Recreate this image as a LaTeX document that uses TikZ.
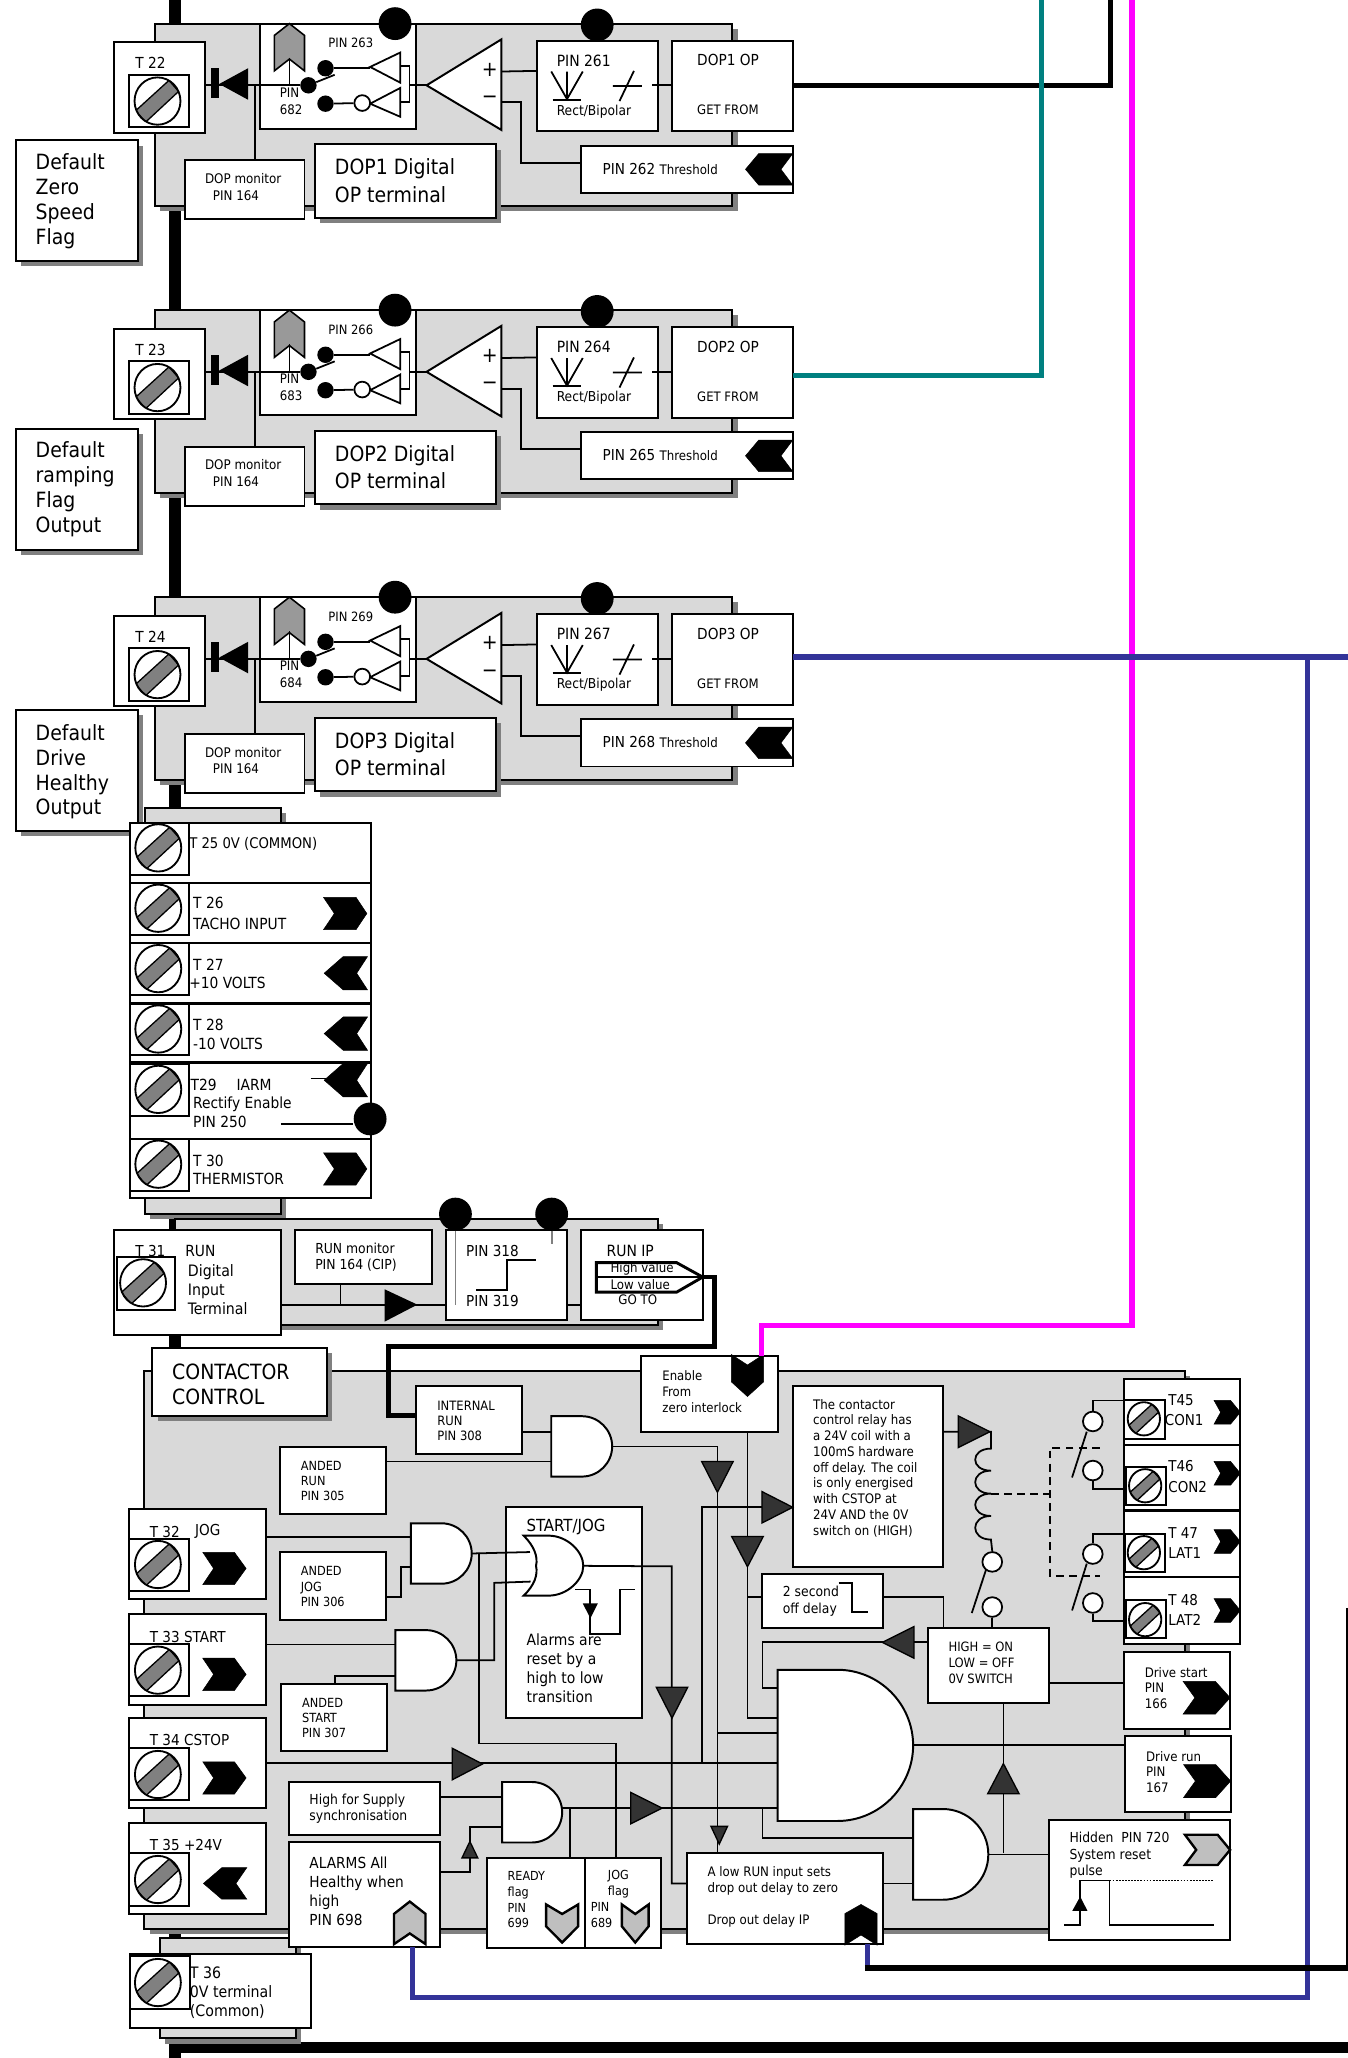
\documentclass[tikz,border=0pt]{standalone}
\usepackage{fontspec}
\setmainfont{DejaVu Sans Condensed}
\usepackage{tikz}

\definecolor{pnlgrey}{HTML}{D9D9D9}
\definecolor{shgrey}{HTML}{808080}
\definecolor{chevgrey}{HTML}{999999}
\definecolor{softgrey}{HTML}{BFBFBF}
\definecolor{darktri}{HTML}{333333}
\definecolor{tealwire}{HTML}{008080}
\definecolor{bluewire}{HTML}{333399}
\definecolor{magwire}{HTML}{FF00FF}

\tikzset{
  box/.style={draw,fill=white,line width=1.5pt,rectangle,inner sep=0pt,outer sep=0pt,anchor=north west},
  pnl/.style={box,fill=pnlgrey},
  lbl/.style 2 args={font=\fontsize{#1}{#2}\selectfont,anchor=west,align=left,inner sep=0pt,yshift=-1pt},
  wire/.style={line width=1.35pt},
  fatwire/.style={line width=4pt},
  blob/.style={circle,fill=black,inner sep=0pt,minimum size=25pt},
  ball/.style={circle,fill=black,inner sep=0pt,minimum size=12.5pt},
  contact/.style={circle,draw,fill=white,line width=1.35pt,inner sep=0pt,minimum size=15pt},
  blackchev/.style={fill=black,draw=black,line width=.4pt},
  greychev/.style={fill=softgrey,draw=black,line width=1.8pt},
  midgrey/.style={fill=chevgrey,draw=black,line width=1.2pt},
}

% box from corner to corner
\newcommand{\nbox}[6][box]{\node[#1,minimum width={(#5-#3)*1pt},minimum height={(#6-#4)*1pt}] (#2) at (#3,#4) {};}
\newcommand{\shbox}[5]{\fill[shgrey] (#2+4,#3+4) rectangle (#4+4,#5+4);
  \nbox{#1}{#2}{#3}{#4}{#5}}
\newcommand{\pnlbox}[5]{\fill[shgrey] (#2+4,#3+4) rectangle (#4+4,#5+4);
  \nbox[pnl]{#1}{#2}{#3}{#4}{#5}}
% screw head: x, y, radius
\newcommand{\screw}[3]{\begin{scope}[shift={(#1,#2)},scale=#3]
  \fill[white] (0,0) ellipse [x radius=1,y radius=1.03];
  \begin{scope}
    \clip (0,0) ellipse [x radius=1,y radius=1.03];
    \filldraw[fill=shgrey,line width=1pt] (-.95,.42) -- (-.52,.92) -- (.92,-.42) -- (.5,-.9) -- cycle;
  \end{scope}
  \draw[line width=1.4pt] (0,0) ellipse [x radius=1,y radius=1.03];
\end{scope}}
% chevron: x, y, direction, half length, half width, shoulder
\newcommand{\chev}[7][blackchev]{\begin{scope}[shift={(#2,#3)},rotate=#4,xscale=#5,yscale=#6]
  \path[#1] (-1,-1) -- (#7,-1) -- (1,0) -- (#7,1) -- (-1,1) -- (-.5,0) -- cycle;
\end{scope}}
% triangle: tip x, tip y, direction, length, half width
\newcommand{\tri}[6][darktri]{\begin{scope}[shift={(#2,#3)},rotate=#4]
  \filldraw[fill=#1,line width=1pt] (0,0) -- (-#5,-#6) -- (-#5,#6) -- cycle;
\end{scope}}
% and gate: name, corners
\newcommand{\andg}[5]{\node[inner sep=0pt,outer sep=0pt,anchor=north west,minimum width={(#4-#2)*1pt},minimum height={(#5-#3)*1pt}] (#1) at (#2,#3) {};
  \pgfmathsetmacro{\gr}{(#5-#3)/2}
  \filldraw[fill=white,line width=1.5pt] (#2,#3) -- (#4-\gr,#3) .. controls (#4-.45*\gr,#3) and (#4,#3+.45*\gr) .. (#4,#3+\gr)
    .. controls (#4,#5-.45*\gr) and (#4-.45*\gr,#5) .. (#4-\gr,#5) -- (#2,#5) -- cycle;}

\newcommand{\dopblock}[8]{\begin{scope}[yshift=-#2]
\pnlbox{#1Panel}{118}{18}{558}{157}
\nbox{#1Mon}{141}{122}{232}{167}
\shbox{#1Dig}{240}{110}{378}{166}
\nbox{#1Term}{87}{32}{156}{101}
\nbox{#1Sq}{98}{57}{144}{97}
\screw{120}{77}{17.5}
\nbox{#1Sw}{198}{18}{317}{98}
\nbox{#1Pin}{409}{31}{501}{100}
\nbox{#1Op}{512}{31}{604}{100}
\nbox{#1Thr}{443}{111}{604}{147}
\node[blob] (#1DotA) at (301,18) {};
\node[blob] (#1DotB) at (455,19) {};
\node[ball] (#1BallT) at (248,52) {};
\node[ball] (#1BallC) at (235,65) {};
\node[ball] (#1BallB) at (248,79) {};
\coordinate (#1Jn) at (194,65);
\coordinate (#1Tap) at (220.5,65);
\coordinate (#1Amp) at (325,65);
\draw[wire] (#1Term.east |- 0,65) -- (#1BallC);
\draw[wire] (#1Jn) -- (#1Mon.north -| #1Jn);
\fill (161,52) rectangle (167,75);
\fill (167,64) -- (189,52) -- (189,76) -- cycle;
\chev[midgrey]{220.5}{36}{90}{18}{11.5}{.5}
\draw[wire] (220.5,44) -- (#1Tap);
\draw[wire] (#1BallC) -- (255,57);
\draw[wire] (#1BallT) -- (282,52);
\filldraw[fill=white,wire] (282,51) -- (305,40) -- (305,63) -- cycle;
\filldraw[fill=white,wire] (282,79) -- (305,67) -- (305,89) -- cycle;
\node[contact,minimum size=12pt] (#1Bub) at (276,78.5) {};
\draw[wire] (#1BallB) -- (#1Bub);
\draw[wire] (305,50) -- (312,50) -- (312,78) -- (305,78);
\draw[wire] (312,65) -- (#1Amp);
\filldraw[fill=white,line width=1.5pt] (#1Amp) -- (382,30) -- (382,99) -- cycle;
\draw[wire] (382,54.5) -- (#1Pin.west |- 0,54);
\draw[wire] (382,78) -- (397,78) -- (397,124) -- (#1Thr.west |- 0,124);
\draw[wire] (497,65) -- (#1Op.west |- 0,65);
\draw[wire] (420,54.5) -- (432,75.5) -- (444,54.5) (432,54.5) -- (432,75.5);
\draw[line width=1.5pt] (421,76) -- (443,76);
\draw[wire] (467,65.5) -- (489,65.5) (483,54) -- (472,77);
\chev{586}{129}{180}{18}{12}{.44}
\node[lbl={16}{16}] (#1Plus) at (367,52) {+};
\node[lbl={16}{16}] (#1Minus) at (367,75) {−};
\node[lbl={11.6}{13}] (#1Tname) at (103,47) {#3};
\node[lbl={9.8}{12}] (#1PinA) at (250,32) {PIN #4};
\node[lbl={10}{13}] (#1PinB) at (213,76) {PIN\\#5};
\node[lbl={11.8}{13}] (#1PinC) at (424,45) {PIN #6};
\node[lbl={10.4}{12}] (#1Rect) at (424,84) {Rect/Bipolar};
\node[lbl={11.6}{13}] (#1OpA) at (531,45) {DOP#7 OP};
\node[lbl={9.9}{12}] (#1OpB) at (531,83) {GET FROM};
\node[lbl={11.5}{13}] (#1ThrT) at (459,127.5) {PIN #8 {\fontsize{10}{12}\selectfont Threshold}};
\node[lbl={10.1}{13}] (#1MonA) at (156,135) {DOP monitor};
\node[lbl={10.1}{13}] (#1MonB) at (162,148) {PIN 164};
\node[lbl={16}{21}] (#1DigT) at (255,136.5) {DOP#7 Digital\\OP terminal};
\end{scope}}

\begin{document}
\begin{tikzpicture}[x=1pt,y=-1pt]
\useasboundingbox (0,0) rectangle (1027,1568);

% supply bars
\coordinate (busTop) at (133.5,0);
\coordinate (busBot) at (133.5,1568);
\coordinate (barL) at (129,1560);
\coordinate (barR) at (1027,1560);
\draw[line width=9pt] (busTop) -- (busBot);
\draw[line width=8.5pt] (barL) -- (barR);

\dopblock{a}{0}{T 22}{263}{682}{261}{1}{262}
\dopblock{b}{218.3}{T 23}{266}{683}{264}{2}{265}
\dopblock{c}{437}{T 24}{269}{684}{267}{3}{268}

\shbox{defA}{12}{107}{105}{199}
\node[lbl={16}{19}] (defAt) at (27,152) {Default\\Zero\\Speed\\Flag};
\shbox{defB}{12}{327}{105}{419}
\node[lbl={16}{19}] (defBt) at (27,372) {Default\\ramping\\Flag\\Output};
\shbox{defC}{12}{541}{105}{633}
\node[lbl={16}{19}] (defCt) at (27,587) {Default\\Drive\\Healthy\\Output};

% terminals 25 to 30
\pnlbox{tPanel}{110.5}{615.5}{214}{925}
\nbox{rowA}{99}{627}{283}{672.6}
\nbox{rowB}{99}{672.6}{283}{718.3}
\nbox{rowC}{99}{718.3}{283}{764}
\nbox{rowD}{99}{764.6}{283}{809.2}
\nbox{rowE}{99}{809.8}{283}{867.6}
\nbox{rowF}{99}{867.6}{283}{912.4}
\nbox{sqA}{99}{627}{144}{666.6}
\nbox{sqB}{99}{673}{144}{712.4}
\nbox{sqC}{99}{718.3}{144}{758}
\nbox{sqD}{99}{765}{144}{804}
\nbox{sqE}{99}{811}{144}{850}
\nbox{sqF}{99}{868}{144}{907.5}
\screw{120.6}{646}{17.5}
\screw{120.6}{692}{17.5}
\screw{120.6}{738}{17.5}
\screw{120.6}{784}{17.5}
\screw{120.6}{830}{17.5}
\screw{120.6}{887}{17.5}
\chev{263}{696}{0}{16.5}{12.3}{.5}
\chev{263.5}{741.5}{180}{16.5}{12.7}{.12}
\chev{263.5}{787.5}{180}{16.5}{12.7}{.12}
\begin{scope}
  \clip (200,811) rectangle (283,840);
  \chev{263.5}{823}{180}{16.5}{12.7}{.12}
\end{scope}
\chev{263}{890.6}{0}{16.5}{12.3}{.5}
\node[lbl={11.2}{13}] (tA) at (144,642) {T 25 0V (COMMON)};
\node[lbl={11.7}{16}] (tB) at (147,695) {T 26\\TACHO INPUT};
\node[lbl={11.7}{14}] (tC) at (147,734) {T 27};
\node[lbl={11.7}{14}] (tCb) at (144,748) {+10 VOLTS};
\node[lbl={11.7}{14}] (tD) at (147,787) {T 28\\-10 VOLTS};
\node[lbl={11.7}{14}] (tE) at (145,825.5) {T29};
\node[lbl={11.7}{14}] (tEb) at (180,825.5) {IARM};
\node[lbl={11.7}{14}] (tEc) at (147,846.5) {Rectify Enable\\PIN 250};
\node[lbl={11.7}{14}] (tF) at (147,890.5) {T 30\\THERMISTOR};
\node[blob] (dotIarm) at (282,852.5) {};
\coordinate (iarmEnd) at (236.6,821.7);
\coordinate (rectEnd) at (214,856.6);
\draw[wire] (iarmEnd) -- (248,821.7);
\draw[wire] (rectEnd) -- (dotIarm.west |- rectEnd);

% run input
\pnlbox{runPanel}{133.6}{928.4}{501}{1009.5}
\nbox{runTerm}{87}{937}{214}{1017}
\nbox{runSq}{89}{958}{133}{998}
\screw{109}{977.4}{17.5}
\nbox{runMon}{225}{937}{329}{978}
\nbox{runPin}{340}{937}{432}{1006}
\nbox{runIp}{443}{937}{535.4}{1006}
\node[blob] (dotRunA) at (347,925) {};
\node[blob] (dotRunB) at (420.3,925) {};
\draw[wire] (runTerm.east |- 0,994) -- (runPin.west |- 0,994);
\draw[wire] (runPin.east |- 0,994) -- (runIp.west |- 0,994);
\draw[wire] (runMon.south -| 259.5,0) -- (259.5,994);
\fill (318,994) -- (293,982.3) -- (293,1007) -- cycle;
\draw[wire,shgrey] (dotRunA.south) -- (347,994);
\draw[wire,shgrey] (dotRunB.south) -- (420.3,948);
\draw[wire] (363,983) -- (386,983) -- (386,960) -- (408.6,960);
\coordinate (ipTip) at (535.4,973);
\draw[line width=2.2pt] (454.4,962) -- (515.5,962) -- (ipTip) -- (515.5,984.5) -- (454.4,984.5) -- cycle;
\draw[wire] (454.4,973) -- (ipTip);
\node[lbl={11.5}{13}] (tRunA) at (103,952) {T 31};
\node[lbl={11.7}{13}] (tRunB) at (141,952) {RUN};
\node[lbl={12}{14.5}] (tRunC) at (143,981.5) {Digital\\Input\\Terminal};
\node[lbl={10.5}{12.5}] (tRunD) at (240,957) {RUN monitor\\PIN 164 (CIP)};
\node[lbl={11.5}{13}] (tRunE) at (355,952) {PIN 318};
\node[lbl={11.5}{13}] (tRunF) at (355,990) {PIN 319};
\node[lbl={11.8}{13}] (tRunG) at (462,952) {RUN IP};
\node[lbl={10}{11}] (tRunH) at (465,966) {High value};
\node[lbl={10}{11}] (tRunI) at (465,977.5) {Low value};
\node[lbl={10}{11}] (tRunJ) at (471,989.5) {GO TO};

% contactor control
\pnlbox{ctlPanel}{110}{1044.7}{903}{1469.4}
\shbox{ctlName}{116}{1027}{249}{1079}
\node[lbl={16}{19}] (ctlNameT) at (131,1053.5) {CONTACTOR\\CONTROL};
\nbox{inRun}{316.7}{1056}{397.5}{1107.5}
\nbox{andRun}{213.3}{1102.3}{294.4}{1153.6}
\nbox{andJog}{213.3}{1182.5}{294.4}{1234}
\nbox{andStart}{214.4}{1282.7}{295}{1334}
\nbox{termJog}{98.5}{1149.4}{202.4}{1218.5}
\nbox{termStart}{98.5}{1229.7}{202.4}{1298.7}
\nbox{termStop}{98.5}{1309}{202.4}{1377.6}
\nbox{termVolt}{98.5}{1389}{202.4}{1458}
\nbox{sqJog}{98.5}{1172.4}{144}{1212}
\nbox{sqStart}{98.5}{1252.7}{144}{1292.5}
\nbox{sqStop}{98.5}{1332}{144}{1371.7}
\nbox{sqVolt}{98.5}{1412}{144}{1452}
\screw{120.3}{1192}{17.5}
\screw{120.3}{1272.5}{17.5}
\screw{120.3}{1352}{17.5}
\screw{120.3}{1432}{17.5}
\chev{171}{1195}{0}{16.5}{12.3}{.46}
\chev{171}{1275.7}{0}{16.5}{12.3}{.46}
\chev{171}{1354.6}{0}{16.5}{12.3}{.46}
\chev{171.5}{1435}{180}{16.5}{12}{.15}
\pnlbox{zeroPanel}{122}{1476.3}{225.5}{1553}
\nbox{termZero}{99}{1488.6}{237.3}{1545.4}
\nbox{sqZero}{99}{1490}{145}{1530.4}
\screw{120.3}{1510.5}{17.5}
\nbox{startBox}{385.8}{1148.4}{489.2}{1309}
\nbox{supBox}{220}{1357.7}{335.2}{1397.8}
\nbox{almBox}{220}{1403.4}{335.2}{1483.7}
\nbox{readyBox}{371}{1415.3}{446}{1484}
\nbox{jogBox}{446}{1415.3}{503.6}{1484}
\nbox{enBox}{488.6}{1033}{592.5}{1090.8}
\nbox{noteBox}{604}{1056}{718.8}{1193.7}
\nbox{offBox}{580.8}{1199}{672.7}{1240}
\nbox{swBox}{707.4}{1240}{799}{1297.7}
\nbox{dropBox}{523.4}{1412}{672.7}{1481.2}
\nbox{runOut}{857.4}{1322.8}{938}{1380.4}
\nbox{startOut}{856.7}{1259}{937.2}{1317}
\nbox{hidBox}{799.3}{1386.7}{937.2}{1478.4}
\nbox{rlyA}{856.4}{1050.7}{944.4}{1100.6}
\nbox{rlyB}{856.4}{1100.6}{944.4}{1150.8}
\nbox{rlyC}{856.4}{1151.5}{944.4}{1201.7}
\nbox{rlyD}{856.4}{1201.7}{944.4}{1252.7}
\nbox{sqRlyA}{856.4}{1067}{887.7}{1096.4}
\nbox{sqRlyB}{858}{1117.7}{888.7}{1147}
\nbox{sqRlyC}{857}{1168.6}{887.7}{1198}
\nbox{sqRlyD}{858}{1219}{888.7}{1248}
\screw{871.5}{1081}{12.3}
\screw{872.5}{1132}{12.3}
\screw{871.5}{1183}{12.3}
\screw{872.5}{1234}{12.3}
\chev{935}{1076}{0}{10}{9}{.26}
\chev{935}{1122.5}{0}{10}{9}{.26}
\chev{935}{1174.5}{0}{10}{9}{.26}
\chev{935}{1227}{0}{10}{9}{.26}

\andg{gateRun}{420}{1079}{466.4}{1125}
\andg{gateJog}{313}{1160.6}{359.4}{1206.6}
\andg{gateStart}{301.2}{1242}{347.7}{1288}
\andg{gateSup}{382.6}{1357.7}{428.3}{1403.8}
\andg{gateMain}{592.5}{1272.2}{695.7}{1387.4}
\andg{gateRes}{695.7}{1378.3}{753}{1447.4}

% or gate of the start/jog box
\coordinate (orOut) at (444.4,1193);
\filldraw[fill=white,line width=1.5pt] (399,1170) -- (418,1170) .. controls (432,1170) and (444.4,1182) .. (orOut)
  .. controls (444.4,1204) and (432,1215.7) .. (418,1215.7) -- (399,1215.7) .. controls (407,1208) and (410,1200) .. (408.4,1193)
  .. controls (410,1186) and (407,1178) .. (399,1170) -- cycle;

% wires of the gates
\draw[wire] (inRun.east |- 0,1091) -- (gateRun.west |- 0,1091);
\draw[wire] (andRun.east |- 0,1113.5) -- (gateRun.west |- 0,1113.5);
\draw[wire] (gateRun.east) -- (546.6,1102) -- (546.6,1113.5);
\draw[wire] (546.6,1113.5) -- (dropBox.north -| 546.6,0);
\tri{546.6}{1137}{-90}{23.5}{12}
\tri{548}{1405}{-90}{13.5}{6.3}
\draw[wire] (termJog.east |- 0,1171) -- (gateJog.west |- 0,1171);
\draw[wire] (andJog.east |- 0,1216.7) -- (305.3,1216.7) -- (305.3,1193.7) -- (gateJog.west |- 0,1193.7);
\draw[wire] (termStart.east |- 0,1253) -- (gateStart.west |- 0,1253);
\draw[wire] (andStart.north -| 255.2,0) -- (255.2,1277) -- (gateStart.west |- 0,1277);
\draw[wire] (gateJog.east) -- (403.8,1182.5);
\draw[wire] (gateStart.east) -- (376.6,1265) -- (376.6,1206) -- (404.3,1205);
\draw[wire] (365,1183) -- (365,1328.4) -- (469.6,1328.4) -- (jogBox.north -| 469.6,0);
\draw[wire] (orOut) -- (511.8,1193.4) -- (511.8,1435) -- (dropBox.west |- 0,1435);
\tri{512}{1309}{-90}{23.5}{12}
\draw[wire] (438.3,1211) -- (449.8,1211) -- (449.8,1245) -- (472.4,1245) -- (472.4,1211) -- (484,1211);
\fill (449.8,1233) -- (444,1221.6) -- (455.5,1221.6) -- cycle;
\draw[wire] (termStop.east |- 0,1343) -- (gateMain.west |- 0,1343);
\tri{367.6}{1344}{0}{23}{12}
\draw[wire] (supBox.east |- 0,1369) -- (gateSup.west |- 0,1369);
\draw[wire] (almBox.east |- 0,1426.5) -- (358,1426.5) -- (358,1392) -- (gateSup.west |- 0,1392);
\tri{358}{1403}{90}{12.5}{6}
\draw[wire] (gateSup.east |- 0,1377.6) -- (gateMain.west |- 0,1377.6);
\tri{504.5}{1377.6}{0}{24}{12}
\draw[wire] (434.3,1377.6) -- (readyBox.north -| 434.3,0);
\draw[wire] (enBox.south -| 569.5,0) -- (569.5,1309) -- (gateMain.west |- 0,1309);
\tri{569.5}{1193.7}{-90}{23}{12}
\draw[wire] (offBox.west |- 0,1217) -- (569.5,1217);
\draw[wire] (535,1343) -- (535,1148.4) -- (noteBox.west |- 0,1148.4);
\tri{604}{1148.4}{0}{23.5}{12}
\draw[wire] (546.6,1320.4) -- (gateMain.west |- 0,1320.4);
\draw[wire] (offBox.east |- 0,1217) -- (718.8,1217) -- (swBox.north -| 718.8,0);
\draw[wire] (swBox.west |- 0,1251.3) -- (581,1251.3) -- (581,1286) -- (gateMain.west |- 0,1286);
\tri{672.3}{1251.3}{180}{24}{12}
\draw[wire] (581,1377.6) -- (581,1400.3) -- (gateRes.west |- 0,1400.3);
\draw[wire] (dropBox.east |- 0,1435) -- (gateRes.west |- 0,1435);
\draw[wire] (gateMain.east) -- (runOut.west |- gateMain.east);
\draw[wire] (swBox.east |- 0,1282) -- (startOut.west |- 0,1282);
\draw[wire] (gateRes.east) -- (hidBox.west |- gateRes.east);
\draw[wire] (764.5,1411.8) -- (swBox.south -| 764.5,0);
\tri{764.5}{1343.7}{90}{23}{12}

% relay coil and contacts
\node[contact] (cCoilA) at (756,1190) {};
\node[contact] (cCoilB) at (756,1224.4) {};
\node[contact] (cConA) at (832.6,1083) {};
\node[contact] (cConB) at (832.6,1120.4) {};
\node[contact] (cLatA) at (832.6,1184) {};
\node[contact] (cLatB) at (832.6,1221.3) {};
\draw[wire] (noteBox.east |- 0,1090.8) -- (755,1090.8) -- (755,1103.7)
  .. controls (739,1103.7) and (739,1120.5) .. (755,1120.5)
  .. controls (739,1120.5) and (739,1138) .. (755,1138)
  .. controls (739,1138) and (739,1155) .. (755,1155)
  .. controls (739,1155) and (739,1173) .. (755,1173) -- (cCoilA.north);
\tri{754.2}{1090.8}{0}{24}{12}
\draw[wire] (751.4,1195.5) -- (740.4,1229);
\draw[wire] (cCoilB.south) -- (swBox.north -| cCoilB.south);
\draw[line width=1.35pt,dash pattern=on 6pt off 4pt] (755,1138) -- (800,1138);
\draw[line width=1.35pt,dash pattern=on 6pt off 4pt] (837.8,1103) -- (800,1103) -- (800,1200.7) -- (837.8,1200.7);
\draw[wire] (sqRlyA.north west) -- (832.6,1067) -- (cConA.north);
\draw[wire] (828,1090.8) -- (816.8,1125.7);
\draw[wire] (cConB.south) -- (832.6,1134.4) -- (sqRlyB.west |- 0,1134.4);
\draw[wire] (sqRlyC.north west) -- (832.6,1168.6) -- (cLatA.north);
\draw[wire] (828,1191.3) -- (816.8,1227);
\draw[wire] (cLatB.south) -- (832.6,1235) -- (sqRlyD.west |- 0,1235);

% pulse in the hidden box
\draw[wire] (811,1466.6) -- (823,1466.6) -- (823,1432.7) -- (845.4,1432.7) -- (845.4,1466.6) -- (925,1466.6);
\draw[line width=1.35pt,densely dotted] (845.4,1432.7) -- (925,1432.7);
\fill (823,1445) -- (817,1455.8) -- (828.5,1455.8) -- cycle;

% chevrons of the lower boxes
\chev[greychev]{312.2}{1465}{90}{16.2}{12}{.42}
\chev[greychev]{428.3}{1465.5}{-90}{14.5}{12.2}{.15}
\chev[greychev]{484}{1465.5}{-90}{14.5}{10.2}{.15}
\chev{569.5}{1048}{-90}{16}{12.3}{.3}
\chev{656}{1466.5}{90}{15.5}{12.3}{.55}
\chev{919.3}{1293.5}{0}{17.9}{12.5}{.37}
\chev{919.7}{1357}{0}{17.9}{12.5}{.37}
\chev[greychev]{920}{1409.4}{0}{17.2}{11.5}{.45}

% texts of the lower boxes
\node[lbl={9.8}{11.7}] (tInRun) at (333,1081.5) {INTERNAL\\RUN\\PIN 308};
\node[lbl={9.6}{11.7}] (tAndRun) at (229,1127.4) {ANDED\\RUN\\PIN 305};
\node[lbl={9.6}{11.7}] (tAndJog) at (229,1208) {ANDED\\JOG\\PIN 306};
\node[lbl={9.6}{11.7}] (tAndStart) at (230,1308) {ANDED\\START\\PIN 307};
\node[lbl={11.5}{13}] (tJogA) at (114,1166) {T 32};
\node[lbl={11.5}{13}] (tJogB) at (148.5,1166) {JOG};
\node[lbl={11.5}{13}] (tStart) at (114,1246) {T 33 START};
\node[lbl={11.5}{13}] (tStop) at (114,1325) {T 34 CSTOP};
\node[lbl={11.5}{13}] (tVolt) at (114,1405) {T 35 +24V};
\node[lbl={12}{14.4}] (tZero) at (144.5,1517.5) {T 36\\0V terminal\\(Common)};
\node[lbl={12.7}{14}] (tSj) at (401,1162.7) {START/JOG};
\node[lbl={11.8}{14.5}] (tAlm) at (401,1270) {Alarms are\\reset by a\\high to low\\transition};
\node[lbl={10.5}{12.4}] (tSup) at (235.6,1377) {High for Supply\\synchronisation};
\node[lbl={11.6}{14.3}] (tHealth) at (235.6,1440) {ALARMS All\\Healthy when\\high\\PIN 698};
\node[lbl={9.5}{11.9}] (tReady) at (386.6,1446.5) {READY\\flag\\PIN\\699};
\node[lbl={9.5}{11.9}] (tJogF) at (463,1434.5) {JOG\\flag};
\node[lbl={9.5}{11.9}] (tJogP) at (450,1458) {PIN\\689};
\node[lbl={9.9}{12.2}] (tEn) at (504.5,1059) {Enable\\From\\zero interlock};
\node[lbl={10}{12}] (tNote) at (619.3,1117.5) {The contactor\\control relay has\\a 24V coil with a\\100mS hardware\\off delay. The coil\\is only energised\\with CSTOP at\\24V AND the 0V\\switch on (HIGH)};
\node[lbl={10.5}{12.9}] (tOff) at (596.3,1219) {2 second\\off delay};
\draw[wire] (639,1206) -- (649.3,1206) -- (649.3,1228) -- (661.3,1228);
\node[lbl={9.8}{12.2}] (tSw) at (722.5,1266) {HIGH = ON\\LOW = OFF\\0V SWITCH};
\node[lbl={10}{12.4}] (tDropA) at (538.9,1432) {A low RUN input sets\\drop out delay to zero};
\node[lbl={10}{12.4}] (tDropB) at (538.9,1462.4) {Drop out delay IP};
\node[lbl={10}{12}] (tDs) at (872,1285) {Drive start\\PIN\\166};
\node[lbl={10}{12}] (tDr) at (873,1349) {Drive run\\PIN\\167};
\node[lbl={10.5}{12.5}] (tHid) at (814.7,1412.5) {Hidden\ \ PIN 720\\System reset\\pulse};
\node[lbl={11.4}{15.3}] (tRa) at (890,1065.7) {T45};
\node[lbl={11.4}{15.3}] (tRab) at (887.3,1081) {CON1};
\node[lbl={11.4}{15.3}] (tRb) at (890,1124) {T46\\CON2};
\node[lbl={11.4}{15.3}] (tRc) at (890,1174.5) {T 47\\LAT1};
\node[lbl={11.4}{15.3}] (tRd) at (890,1225.5) {T 48\\LAT2};

% signal lines between sections
\coordinate (magTop) at (862.5,0);
\coordinate (dopOneTop) at (846,0);
\coordinate (dopTwoTop) at (793.5,0);
\coordinate (blueEnd) at (1027,500.5);
\coordinate (blackEnd) at (1027,1499.5);
\draw[fatwire,magwire] (magTop) -- (862.5,1010) -- (580,1010) -- (enBox.north -| 580,0);
\draw[fatwire] (aOp.east |- 0,65) -- (846,65) -- (dopOneTop);
\draw[fatwire,tealwire] (bOp.east |- 0,286) -- (793.5,286) -- (dopTwoTop);
\draw[fatwire,bluewire] (cOp.east |- 0,500.5) -- (blueEnd);
\draw[fatwire,bluewire] (996,500.5) -- (996,1522) -- (314.5,1522) -- (almBox.south -| 314.5,0);
\draw[fatwire,bluewire] (dropBox.south -| 661,0) -- (661,1499.5);
\draw[fatwire] (659,1499.5) -- (blackEnd);
\draw[wire] (1026.5,1225) -- (1026.5,1499);
\draw[line width=3.6pt] (ipTip) -- (544.5,973) -- (544.5,1026) -- (296,1026) -- (296,1078.5) -- (inRun.west |- 0,1078.5);
\end{tikzpicture}
\end{document}
